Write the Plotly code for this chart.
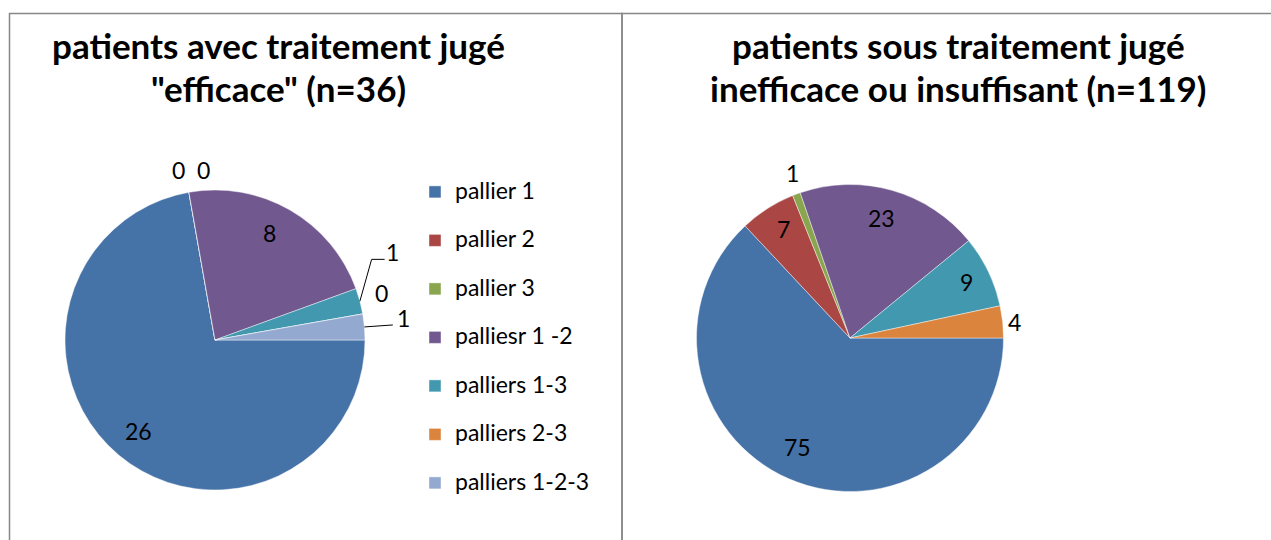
import math
import plotly.graph_objects as go

W, H = 1271, 540

# ---- data ----
left_title = ["patients avec traitement jugé", "\"efficace\" (n=36)"]
left_categories = ["pallier 1", "pallier 2", "pallier 3", "palliesr 1 -2",
                   "palliers 1-3", "palliers 2-3", "palliers 1-2-3"]
left_values = [26, 0, 0, 8, 1, 0, 1]

right_title = ["patients sous traitement jugé", "inefficace ou insuffisant (n=119)"]
right_categories = ["pallier 1", "pallier 2", "pallier 3", "palliesr 1 -2",
                    "palliers 1-3", "palliers 1-2-3"]
right_values = [75, 7, 1, 23, 9, 4]

left_colors = ["#4572A7", "#AA4643", "#89A54E", "#71588F", "#4198AF", "#DB843D", "#93A9CF"]
right_colors = ["#4572A7", "#AA4643", "#89A54E", "#71588F", "#4198AF", "#DB843D"]

# ---- styling / layout helpers ----
FONT = "Lato"
LABEL_SIZE = 23
LEG_BASE = 17.5
TITLE_SIZE = 35


def px(x):
    return x / W


def py(y):
    return 1 - y / H


def leg_label(t):
    return '<span style="font-size:23px">' + t + '</span><br>\u00a0'


def slice_angles(values):
    tot = sum(values)
    out, cum = [], 0
    for v in values:
        out.append((cum + v / 2) / tot * 2 * math.pi)
        cum += v
    return out


fig = go.Figure()

pies = [
    dict(values=left_values, cats=left_categories, colors=left_colors,
         cx=215, cy=340, r=150, legend="legend",
         # label radius factor and pixel nudges (style only)
         k=[0.79, 1.15, 1.15, 0.8, 1.15, 1.15, 1.15],
         nud=[(0, 0), (-7, 0), (18, 0), (-6, -3), (11, -43), (-3, -17), (17, -7)],
         leaders={4: "bent", 6: "straight"}),
    dict(values=right_values, cats=right_categories, colors=right_colors,
         cx=850, cy=338, r=153.5, legend="legend2",
         k=[0.79, 0.8, 1.15, 0.8, 0.8, 1.1],
         nud=[(-4, -2), (0, -5), (4, 0), (-2, -2), (6, -3), (-3, 2)],
         leaders={}),
]

annotations = []
shapes = []

for p in pies:
    cx, cy, r = p["cx"], p["cy"], p["r"]
    fig.add_trace(go.Pie(
        labels=[leg_label(c) for c in p["cats"]],
        values=p["values"],
        marker=dict(colors=p["colors"], line=dict(color="rgba(255,255,255,0.55)", width=0.8)),
        sort=False, direction="clockwise", rotation=90,
        textinfo="none", hoverinfo="skip",
        domain=dict(x=[px(cx - r), px(cx + r)], y=[py(cy + r), py(cy - r)]),
        legend=p["legend"],
        showlegend=True,
    ))
    angs = slice_angles(p["values"])
    for i, (v, a) in enumerate(zip(p["values"], angs)):
        k = p["k"][i]
        dx, dy = p["nud"][i]
        lx = cx + k * r * math.cos(a) + dx
        ly = cy + k * r * math.sin(a) + dy
        annotations.append(dict(
            x=px(lx), y=py(ly), xref="paper", yref="paper", text=str(v),
            showarrow=False, font=dict(family=FONT, size=LABEL_SIZE, color="#000000"),
            xanchor="center", yanchor="middle"))
        if i in p["leaders"]:
            ex = cx + r * math.cos(a)
            ey = cy + r * math.sin(a)
            if p["leaders"][i] == "bent":
                path = (f"M{px(ex)},{py(ey)} L{px(lx - 21)},{py(ly + 7)} "
                        f"L{px(lx - 8)},{py(ly + 7)}")
            else:
                path = f"M{px(ex)},{py(ey)} L{px(lx - 11)},{py(ly + 7)}"
            shapes.append(dict(type="path", xref="paper", yref="paper", path=path,
                               line=dict(color="#000000", width=1)))

# titles
for lines, cxt in [(left_title, 278), (right_title, 958)]:
    for j, t in enumerate(lines):
        annotations.append(dict(
            x=px(cxt), y=py(45 + 43 * j), xref="paper", yref="paper", text=t,
            showarrow=False, font=dict(family=FONT, size=TITLE_SIZE, color="#000000", weight="bold"),
            xanchor="center", yanchor="middle"))

# frames
shapes.append(dict(type="rect", xref="paper", yref="paper",
                   x0=px(9.5), x1=px(622), y0=py(548), y1=py(13.5),
                   line=dict(color="#878787", width=1.5)))
shapes.append(dict(type="rect", xref="paper", yref="paper",
                   x0=px(622), x1=px(1285), y0=py(548), y1=py(13.5),
                   line=dict(color="#878787", width=1.5)))

leg_common = dict(font=dict(family=FONT, size=LEG_BASE, color="#000000"),
                  bgcolor="rgba(0,0,0,0)", valign="top", xanchor="left", yanchor="top",
                  traceorder="normal", itemclick=False, itemdoubleclick=False)

fig.update_layout(
    width=W, height=H, autosize=False,
    margin=dict(l=0, r=0, t=0, b=0),
    paper_bgcolor="#ffffff", plot_bgcolor="#ffffff",
    annotations=annotations, shapes=shapes,
    legend=dict(x=px(415), y=py(174), **leg_common),
    legend2=dict(x=px(1075), y=py(198), **leg_common),
)

fig.write_html(
    "out.html",
    config={"displayModeBar": False},
    post_script="document.body.style.margin='0';document.body.style.overflow='hidden';",
)
